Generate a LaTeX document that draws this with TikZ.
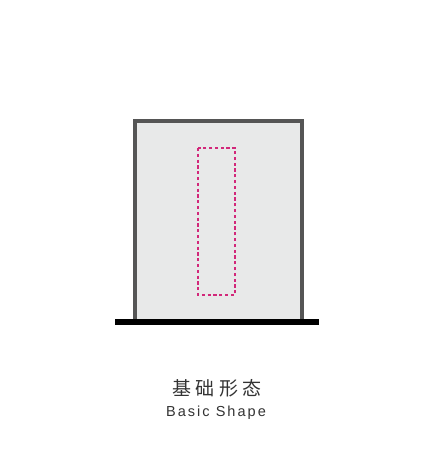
\documentclass[tikz,border=0pt]{standalone}
\usepackage{fontspec}
\setmainfont{Liberation Sans}
\newfontfamily\cjk{Noto Sans CJK SC}
\newfontfamily\latinsp[LetterSpace=14]{Liberation Sans}
\definecolor{framegrey}{HTML}{555555}
\definecolor{fillgrey}{HTML}{E8E9E9}
\definecolor{dashmag}{HTML}{D2287A}
\definecolor{textgrey}{HTML}{333333}
\tikzset{
  wall/.style={draw=framegrey, line width=4pt, fill=fillgrey},
  basebar/.style={fill=black, draw=none},
  inner/.style={draw=dashmag, line width=2.6pt, dash pattern=on 3.2pt off 2.6pt},
  title/.style={text=textgrey, inner sep=0pt}
}
\begin{document}
\begin{tikzpicture}[x=1pt,y=-1pt]
\useasboundingbox (0,0) rectangle (445,457);
\path[fill=white] (0,0) rectangle (445,457);
\path[fill=fillgrey] (135,121) rectangle (302,320);
\draw[draw=framegrey, line width=4pt] (135,321) -- (135,121) -- (302,121) -- (302,321);
\path[basebar] (115,319) rectangle (319,325);
\draw[inner] (198,148) rectangle (235,295);
\node[title, font=\cjk\fontsize{19}{19}\selectfont] (t1) at (217,388) {基\hspace{4.5pt}础\hspace{4.5pt}形\hspace{4.5pt}态};
\node[title, font=\latinsp\fontsize{14.5}{14.5}\selectfont] (t2) at (216,413) {Basic Shape};
\end{tikzpicture}
\end{document}
